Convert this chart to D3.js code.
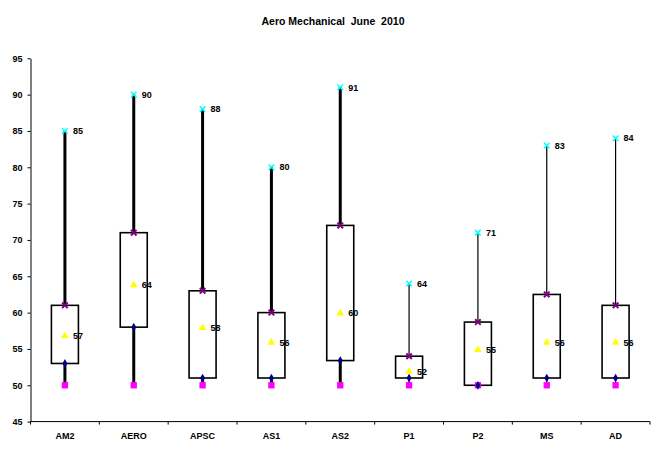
<!DOCTYPE html>
<html>
<head>
<meta charset="utf-8">
<script src="https://cdn.jsdelivr.net/npm/d3@7"></script>
<style>
  body { margin: 0; background: #fff; }
  svg { display: block; font-family: "Liberation Sans", Arial, sans-serif; }
  .axis text { font-size: 9px; font-weight: bold; fill: #000; }
  .axis path, .axis line { stroke: #000; }
  .val-label { font-size: 9px; font-weight: bold; fill: #000; }
  .title { font-size: 10.5px; font-weight: bold; white-space: pre; }
</style>
</head>
<body>
<svg id="chart" width="661" height="454"></svg>
<script>
// Data
const categories = ["AM2", "AERO", "APSC", "AS1", "AS2", "P1", "P2", "MS", "AD"];
const maxVals  = [85, 90, 88, 80, 91, 64, 71, 83, 84];
const q3Vals   = [61, 71, 63, 60, 72, 54, 58.7, 62.5, 61];
const meanVals = [56.8, 63.8, 57.9, 55.9, 59.9, 51.9, 54.9, 55.9, 55.9];
const q1Vals   = [53, 58, 51, 51, 53.4, 51, 50, 51, 51];
const minVals  = [50, 50, 50, 50, 50, 50, 50, 50, 50];
const yTicks   = [45, 50, 55, 60, 65, 70, 75, 80, 85, 90, 95];

// whiskers on the first five groups look heavier in the original
const heavy = new Set(["AM2", "AERO", "APSC", "AS1", "AS2"]);

const rows = categories.map((c, i) => ({
  cat: c, max: maxVals[i], q3: q3Vals[i], mean: meanVals[i], q1: q1Vals[i], min: minVals[i]
}));

const svg = d3.select("#chart");

const x = d3.scaleBand().domain(categories).range([30.5, 650]).padding(0);
const y = d3.scaleLinear().domain([45, 95]).range([421.6, 58.3]);
const cx = d => x(d.cat) + x.bandwidth() / 2;
const BOX_W = 27;

// Title
svg.append("text").attr("class", "title")
  .attr("x", 333).attr("y", 25).attr("text-anchor", "middle")
  .text("Aero Mechanical  June  2010");

// Y axis
svg.append("g").attr("class", "axis")
  .attr("transform", "translate(30.5,0)")
  .call(d3.axisLeft(y).tickValues(yTicks).tickSize(3).tickPadding(5).tickSizeOuter(0));

// X axis: labels centred, ticks at the band edges
const xAxis = svg.append("g").attr("class", "axis")
  .attr("transform", `translate(0,${y(45)})`)
  .call(d3.axisBottom(x).tickSize(0).tickPadding(11));
xAxis.select(".domain").remove();
xAxis.append("line")
  .attr("x1", x.range()[0]).attr("x2", x.range()[1])
  .attr("stroke", "#000");
xAxis.selectAll(".edge-tick")
  .data(categories.map(c => x(c)).concat([x.range()[1]]))
  .join("line").attr("class", "edge-tick")
  .attr("x1", d => d).attr("x2", d => d)
  .attr("y1", 0).attr("y2", 3).attr("stroke", "#000");

const g = svg.append("g");

// Whiskers
g.selectAll(".whisker-hi").data(rows).join("line")
  .attr("x1", cx).attr("x2", cx)
  .attr("y1", d => y(d.q3)).attr("y2", d => y(d.max))
  .attr("stroke", "#000").attr("stroke-width", d => heavy.has(d.cat) ? 3 : 1.2);
g.selectAll(".whisker-lo").data(rows).join("line")
  .attr("x1", cx).attr("x2", cx)
  .attr("y1", d => y(d.q1)).attr("y2", d => y(d.min))
  .attr("stroke", "#000").attr("stroke-width", d => heavy.has(d.cat) ? 3 : 1.2);

// Boxes
g.selectAll(".box").data(rows).join("rect")
  .attr("x", d => cx(d) - BOX_W / 2)
  .attr("y", d => y(d.q3))
  .attr("width", BOX_W)
  .attr("height", d => y(d.q1) - y(d.q3))
  .attr("fill", "#fff").attr("stroke", "#000").attr("stroke-width", 1.6);

// Markers
const sym = (type, size) => d3.symbol().type(type).size(size)();

g.selectAll(".min-mk").data(rows).join("path")
  .attr("transform", d => `translate(${cx(d)},${y(d.min)})`)
  .attr("d", sym(d3.symbolSquare, 40)).attr("fill", "#ff00ff");

g.selectAll(".q1-mk").data(rows).join("path")
  .attr("transform", d => `translate(${cx(d)},${y(d.q1)})`)
  .attr("d", sym(d3.symbolDiamond, 22)).attr("fill", "#000080");

g.selectAll(".mean-mk").data(rows).join("path")
  .attr("transform", d => `translate(${cx(d)},${y(d.mean)})`)
  .attr("d", sym(d3.symbolTriangle, 26)).attr("fill", "#ffff00");

g.selectAll(".q3-mk").data(rows).join("path")
  .attr("transform", d => `translate(${cx(d)},${y(d.q3)})`)
  .attr("d", sym(d3.symbolTimes, 22)).attr("fill", "none")
  .attr("stroke", "#800080").attr("stroke-width", 2);

g.selectAll(".max-mk").data(rows).join("path")
  .attr("transform", d => `translate(${cx(d)},${y(d.max)})`)
  .attr("d", sym(d3.symbolTimes, 22)).attr("fill", "none")
  .attr("stroke", "#00ffff").attr("stroke-width", 1.5);

// Value labels
g.selectAll(".max-lb").data(rows).join("text").attr("class", "val-label")
  .attr("x", d => cx(d) + 8).attr("y", d => y(d.max)).attr("dy", "0.35em")
  .text(d => Math.round(d.max));
g.selectAll(".mean-lb").data(rows).join("text").attr("class", "val-label")
  .attr("x", d => cx(d) + 8).attr("y", d => y(d.mean)).attr("dy", "0.35em")
  .text(d => Math.round(d.mean));
</script>
</body>
</html>
